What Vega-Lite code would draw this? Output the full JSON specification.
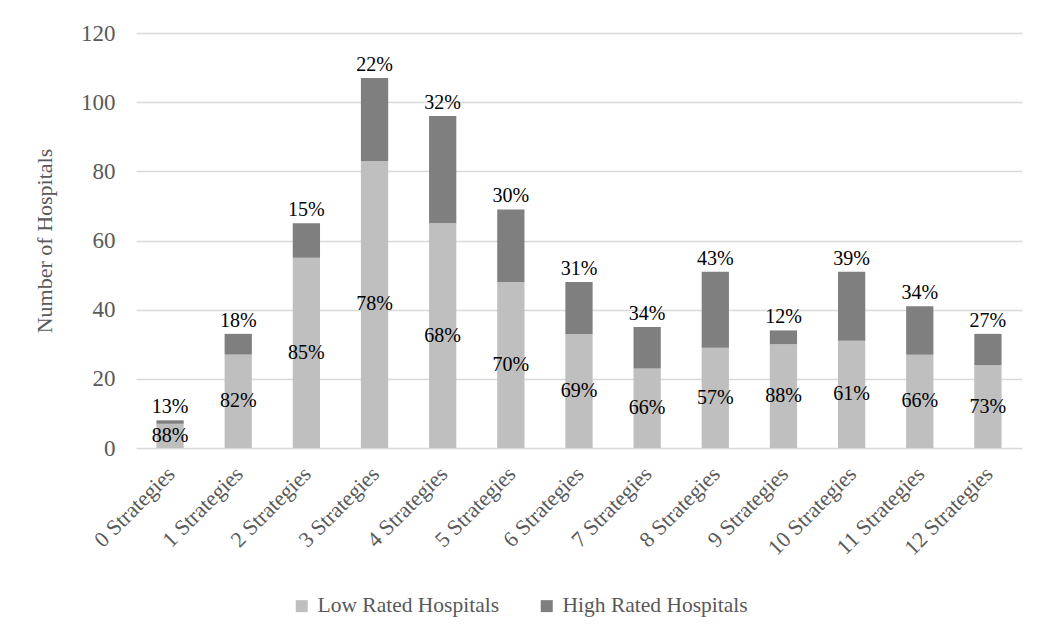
{
  "$schema": "https://vega.github.io/schema/vega-lite/v6.json",
  "width": 886,
  "height": 415,
  "autosize": "none",
  "padding": {"left": 136, "top": 33, "right": 19, "bottom": 196},
  "background": "white",
  "config": {
    "view": {"stroke": null},
    "font": "Liberation Serif",
    "text": {"font": "Liberation Serif"},
    "axis": {"labelFont": "Liberation Serif", "titleFont": "Liberation Serif"},
    "legend": {"labelFont": "Liberation Serif"}
  },
  "data": {
    "values": [
      {"strategy": "0 Strategies", "rating": "Low Rated Hospitals", "count": 7, "pct": "88%"},
      {"strategy": "0 Strategies", "rating": "High Rated Hospitals", "count": 1, "pct": "13%"},
      {"strategy": "1 Strategies", "rating": "Low Rated Hospitals", "count": 27, "pct": "82%"},
      {"strategy": "1 Strategies", "rating": "High Rated Hospitals", "count": 6, "pct": "18%"},
      {"strategy": "2 Strategies", "rating": "Low Rated Hospitals", "count": 55, "pct": "85%"},
      {"strategy": "2 Strategies", "rating": "High Rated Hospitals", "count": 10, "pct": "15%"},
      {"strategy": "3 Strategies", "rating": "Low Rated Hospitals", "count": 83, "pct": "78%"},
      {"strategy": "3 Strategies", "rating": "High Rated Hospitals", "count": 24, "pct": "22%"},
      {"strategy": "4 Strategies", "rating": "Low Rated Hospitals", "count": 65, "pct": "68%"},
      {"strategy": "4 Strategies", "rating": "High Rated Hospitals", "count": 31, "pct": "32%"},
      {"strategy": "5 Strategies", "rating": "Low Rated Hospitals", "count": 48, "pct": "70%"},
      {"strategy": "5 Strategies", "rating": "High Rated Hospitals", "count": 21, "pct": "30%"},
      {"strategy": "6 Strategies", "rating": "Low Rated Hospitals", "count": 33, "pct": "69%"},
      {"strategy": "6 Strategies", "rating": "High Rated Hospitals", "count": 15, "pct": "31%"},
      {"strategy": "7 Strategies", "rating": "Low Rated Hospitals", "count": 23, "pct": "66%"},
      {"strategy": "7 Strategies", "rating": "High Rated Hospitals", "count": 12, "pct": "34%"},
      {"strategy": "8 Strategies", "rating": "Low Rated Hospitals", "count": 29, "pct": "57%"},
      {"strategy": "8 Strategies", "rating": "High Rated Hospitals", "count": 22, "pct": "43%"},
      {"strategy": "9 Strategies", "rating": "Low Rated Hospitals", "count": 30, "pct": "88%"},
      {"strategy": "9 Strategies", "rating": "High Rated Hospitals", "count": 4, "pct": "12%"},
      {"strategy": "10 Strategies", "rating": "Low Rated Hospitals", "count": 31, "pct": "61%"},
      {"strategy": "10 Strategies", "rating": "High Rated Hospitals", "count": 20, "pct": "39%"},
      {"strategy": "11 Strategies", "rating": "Low Rated Hospitals", "count": 27, "pct": "66%"},
      {"strategy": "11 Strategies", "rating": "High Rated Hospitals", "count": 14, "pct": "34%"},
      {"strategy": "12 Strategies", "rating": "Low Rated Hospitals", "count": 24, "pct": "73%"},
      {"strategy": "12 Strategies", "rating": "High Rated Hospitals", "count": 9, "pct": "27%"}
    ]
  },
  "transform": [
    {"stack": "count", "groupby": ["strategy"], "sort": [{"field": "rating", "order": "descending"}], "as": ["y0", "y1"]}
  ],
  "encoding": {
    "x": {
      "field": "strategy", "type": "nominal", "sort": null,
      "scale": {"paddingInner": 0.6, "paddingOuter": 0.3},
      "axis": {
        "title": null, "labelAngle": -45, "labelFontSize": 22, "labelColor": "#595959",
        "labelFont": "Liberation Serif", "labelPadding": 15, "labelOffset": -6,
        "ticks": false, "domain": false, "grid": false
      }
    }
  },
  "layer": [
    {
      "mark": {"type": "bar"},
      "encoding": {
        "y": {
          "field": "y1", "type": "quantitative",
          "scale": {"domain": [0, 120]},
          "axis": {
            "title": "Number of Hospitals", "titleFontSize": 22, "titleFontWeight": "normal",
            "titleFont": "Liberation Serif", "titleColor": "#595959", "titlePadding": 24,
            "values": [0, 20, 40, 60, 80, 100, 120],
            "labelFont": "Liberation Serif", "labelFontSize": 23, "labelColor": "#595959", "labelPadding": 21,
            "ticks": false, "domain": false, "gridColor": "#d9d9d9", "gridWidth": 1.5
          }
        },
        "y2": {"field": "y0"},
        "color": {
          "field": "rating", "type": "nominal",
          "scale": {"domain": ["Low Rated Hospitals", "High Rated Hospitals"], "range": ["#bfbfbf", "#7f7f7f"]},
          "legend": {
            "title": null, "orient": "none", "direction": "horizontal",
            "legendX": 155, "legendY": 562,
            "symbolType": "square", "symbolSize": 144, "symbolStrokeWidth": 0,
            "labelFont": "Liberation Serif", "labelFontSize": 21.5, "labelColor": "#595959",
            "labelOffset": 5, "labelLimit": 400, "columnPadding": 36
          }
        }
      }
    },
    {
      "transform": [{"filter": "datum.rating == 'High Rated Hospitals'"}],
      "mark": {"type": "text", "baseline": "bottom", "dy": -3, "fontSize": 20, "color": "#000000", "font": "Liberation Serif"},
      "encoding": {
        "y": {"field": "y1", "type": "quantitative", "scale": {"domain": [0, 120]}, "axis": null},
        "text": {"field": "pct"}
      }
    },
    {
      "transform": [{"filter": "datum.rating == 'Low Rated Hospitals'"}],
      "mark": {"type": "text", "baseline": "middle", "fontSize": 20, "color": "#000000", "font": "Liberation Serif"},
      "encoding": {
        "y": {"field": "y1", "type": "quantitative", "scale": {"domain": [0, 240]}, "axis": null},
        "text": {"field": "pct"}
      }
    }
  ],
  "resolve": {"scale": {"y": "independent"}}
}
